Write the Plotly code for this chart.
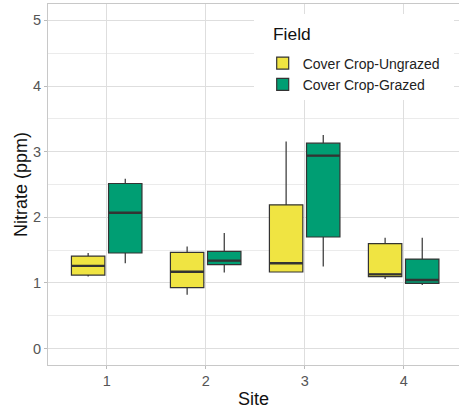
import plotly.graph_objects as go

sites = [1, 2, 3, 4]
fields = ["Cover Crop-Ungrazed", "Cover Crop-Grazed"]
colors = ["#F0E442", "#009E73"]

# per field: values per site
lower = {"Cover Crop-Ungrazed": [1.10, 0.82, 1.167, 1.06],
         "Cover Crop-Grazed":   [1.30, 1.16, 1.25, 0.97]}
q1 = {"Cover Crop-Ungrazed": [1.12, 0.93, 1.167, 1.095],
      "Cover Crop-Grazed":   [1.456, 1.28, 1.70, 0.993]}
median = {"Cover Crop-Ungrazed": [1.26, 1.17, 1.30, 1.13],
          "Cover Crop-Grazed":   [2.07, 1.34, 2.94, 1.045]}
q3 = {"Cover Crop-Ungrazed": [1.41, 1.465, 2.19, 1.60],
      "Cover Crop-Grazed":   [2.515, 1.48, 3.13, 1.364]}
upper = {"Cover Crop-Ungrazed": [1.455, 1.556, 3.155, 1.69],
         "Cover Crop-Grazed":   [2.586, 1.76, 3.255, 1.69]}

y_ticks = [0, 1, 2, 3, 4, 5]
legend_title = "Field"

dodge = 0.375
box_w = 0.3375
FONT = "Liberation Sans, Arial, sans-serif"

# plot area in pixels
L, R, T, B = 48, 459, 4, 365
PW, PH = R - L, B - T


def px(xp):
    return (xp - L) / PW


def py(yp):
    return (B - yp) / PH


fig = go.Figure()
for i, f in enumerate(fields):
    off = (i - 0.5) * dodge
    pos = [s + off for s in sites]
    fig.add_trace(go.Box(
        x=pos, q1=q1[f], median=median[f], q3=q3[f],
        lowerfence=lower[f], upperfence=upper[f],
        name=f, fillcolor=colors[i],
        line=dict(color="#333333", width=1.2),
        whiskerwidth=0, width=box_w, boxpoints=False,
        hoverinfo="skip",
    ))
    mx, my = [], []
    for p, m in zip(pos, median[f]):
        mx += [p - box_w / 2, p + box_w / 2, None]
        my += [m, m, None]
    fig.add_trace(go.Scatter(x=mx, y=my, mode="lines",
                             line=dict(color="#333333", width=2.4),
                             showlegend=False, hoverinfo="skip"))

# white legend background box
fig.add_shape(type="rect", xref="paper", yref="paper",
              x0=px(254), x1=px(454), y0=py(100), y1=py(14),
              fillcolor="white", line=dict(width=0), layer="above")
fig.add_annotation(text=legend_title, xref="paper", yref="paper",
                   x=px(270.5), y=py(33.5), xanchor="left", yanchor="middle",
                   showarrow=False, font=dict(size=17.4, color="#111"))

fig.update_layout(
    width=459, height=410,
    margin=dict(l=L, r=459 - R, t=T, b=410 - B, autoexpand=False),
    paper_bgcolor="white", plot_bgcolor="white",
    font=dict(family=FONT, color="#222"),
    boxmode="overlay",
    showlegend=True,
    legend=dict(
        font=dict(size=14.0, color="#222"),
        x=px(262.7), xanchor="left",
        y=py(47.5), yanchor="top",
        bgcolor="rgba(0,0,0,0)", borderwidth=0,
        tracegroupgap=0,
    ),
    xaxis=dict(
        range=[0.407, 4.559], tickmode="array", tickvals=sites,
        ticktext=[str(s) for s in sites],
        showgrid=True, gridcolor="#DEDEDE", gridwidth=1,
        zeroline=False, automargin=False,
        showline=True, linecolor="#C8C8C8", linewidth=1, mirror=True,
        ticks="outside", ticklen=3, tickcolor="#BBBBBB",
        tickfont=dict(size=14.5, color="#555"),
        title=dict(text="Site", font=dict(size=18, color="#111"), standoff=3),
    ),
    yaxis=dict(
        range=[-0.25, 5.25], tickmode="array", tickvals=y_ticks,
        showgrid=True, gridcolor="#DEDEDE", gridwidth=1,
        minor=dict(dtick=0.5, showgrid=True, gridcolor="#EBEBEB", gridwidth=0.8),
        zeroline=False, automargin=False,
        showline=True, linecolor="#C8C8C8", linewidth=1,
        ticks="outside", ticklen=3, tickcolor="#BBBBBB",
        tickfont=dict(size=14.5, color="#555"),
        title=dict(text="Nitrate (ppm)", font=dict(size=18, color="#111"), standoff=0),
    ),
)

fig.write_html("out.html", config={"displayModeBar": False},
               post_script="document.body.style.margin='0px';document.body.style.overflow='hidden';")
